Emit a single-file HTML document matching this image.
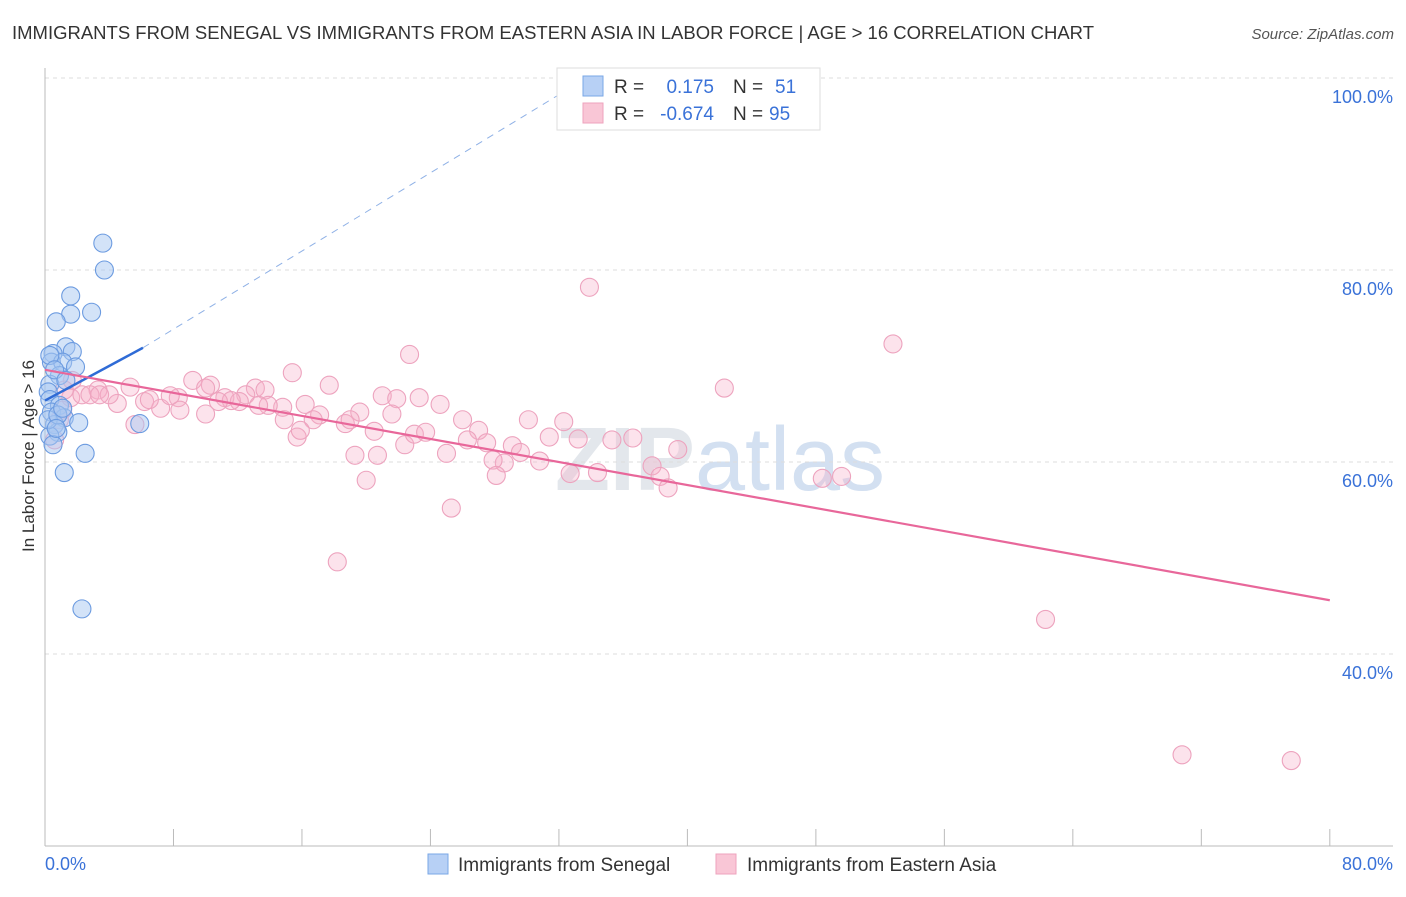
<!DOCTYPE html>
<html><head><meta charset="utf-8"><style>
body{margin:0;background:#fff;font-family:"Liberation Sans",sans-serif}
svg text{font-family:"Liberation Sans",sans-serif}
</style></head><body>
<svg id="chart" width="1406" height="892" viewBox="0 0 1406 892" xmlns="http://www.w3.org/2000/svg">
<text x="12" y="39" font-size="18" fill="#333" textLength="1082" lengthAdjust="spacingAndGlyphs">IMMIGRANTS FROM SENEGAL VS IMMIGRANTS FROM EASTERN ASIA IN LABOR FORCE | AGE &gt; 16 CORRELATION CHART</text>
<text x="1394" y="39" font-size="15" fill="#555" text-anchor="end" font-style="italic">Source: ZipAtlas.com</text>
<text x="720" y="490" font-size="90" fill="#e3e7ec" text-anchor="middle" font-family="Liberation Serif" font-weight="bold">ZIP<tspan fill="#d3e0f1" font-family="Liberation Sans" font-weight="normal">atlas</tspan></text>
<g id="grid"></g>
<g id="axes"></g>
<g id="pts"></g>
<g id="lines"></g>
<text transform="translate(34,456) rotate(-90)" font-size="17" fill="#333" text-anchor="middle">In Labor Force | Age &gt; 16</text>
<g>
<rect x="557" y="68" width="263" height="62" fill="#fff" stroke="#ddd"/>
<rect x="583" y="76" width="20" height="20" fill="#b7d0f5" stroke="#7aa7e6"/>
<rect x="583" y="103" width="20" height="20" fill="#f9c6d6" stroke="#eea3bd"/>
<text x="614" y="93" font-size="19" fill="#333">R =</text>
<text x="714" y="93" font-size="19" fill="#3a72d8" text-anchor="end">0.175</text>
<text x="733" y="93" font-size="19" fill="#333">N =</text>
<text x="775" y="93" font-size="19" fill="#3a72d8">51</text>
<text x="614" y="120" font-size="19" fill="#333">R =</text>
<text x="714" y="120" font-size="19" fill="#3a72d8" text-anchor="end">-0.674</text>
<text x="733" y="120" font-size="19" fill="#333">N =</text>
<text x="769" y="120" font-size="19" fill="#3a72d8">95</text>
</g>
<g>
<rect x="428" y="854" width="20" height="20" fill="#b7d0f5" stroke="#7aa7e6"/>
<text x="458" y="871" font-size="19" fill="#333">Immigrants from Senegal</text>
<rect x="716" y="854" width="20" height="20" fill="#f9c6d6" stroke="#eea3bd"/>
<text x="747" y="871" font-size="19" fill="#333">Immigrants from Eastern Asia</text>
</g>
</svg>
<script>
const yTicks=[100,80,60,40];
const yTickLabels=["100.0%","80.0%","60.0%","40.0%"];
const xTickVals=[8,16,24,32,40,48,56,64,72,80];
const xLabels=["0.0%","80.0%"];
const blueX=[3.6,3.7,1.6,1.6,2.9,0.7,1.3,1.7,0.5,0.4,1.1,1.9,0.9,0.3,0.2,0.3,0.9,0.4,1.2,2.1,0.6,0.8,0.3,0.5,2.5,1.2,2.3,5.9,0.3,0.6,0.2,0.8,1.3,1.1,0.7];
const blueY=[82.8,80.0,77.3,75.4,75.6,74.6,72.0,71.5,71.3,70.4,70.4,69.9,69.0,68.1,67.3,66.5,65.9,65.2,64.6,64.1,63.9,63.1,62.7,61.8,60.9,58.9,44.7,64.0,71.1,69.6,64.4,64.9,68.5,65.6,63.5];
const pinkX=[33.9,22.7,52.8,15.4,9.2,17.7,42.3,10.3,5.3,3.3,13.1,21.0,24.6,21.9,13.7,11.2,8.3,6.2,7.2,10.0,4.5,12.5,14.8,16.2,19.6,17.1,21.6,26.0,30.1,32.3,18.7,16.7,20.5,22.4,15.7,23.0,23.7,27.0,26.3,27.5,31.4,33.2,36.6,29.1,29.6,25.0,28.6,27.9,30.8,19.3,20.7,20.0,28.1,32.7,34.4,37.8,38.3,38.8,39.4,25.3,18.2,48.4,49.6,62.3,70.8,77.6,5.6,1.6,2.3,4.0,12.1,13.9,8.4,1.1,0.6,0.9,2.8,6.5,11.6,10.0,15.9,19.0,23.3,35.3,1.7,1.2,3.4,7.8,10.8,14.9,13.3];
const pinkY=[78.2,71.2,72.3,69.3,68.5,68.0,67.7,68.0,67.8,67.5,67.7,66.9,66.0,66.6,67.5,66.7,66.7,66.3,65.6,65.0,66.1,67.0,65.7,66.0,65.2,64.9,65.0,64.4,64.4,64.2,64.0,64.4,63.2,61.8,62.6,62.9,63.1,63.3,62.3,62.0,62.6,62.4,62.5,61.7,61.0,60.9,59.9,60.2,60.1,60.7,60.7,58.1,58.6,58.8,58.9,59.6,58.5,57.3,61.3,55.2,49.6,58.3,58.5,43.6,29.5,28.9,63.9,66.7,67.0,67.0,66.3,65.9,65.4,65.4,62.3,64.4,67.0,66.5,66.4,67.7,63.3,64.4,66.7,62.3,68.5,67.5,67.0,66.9,66.3,64.4,65.9];
const blueLine=[0,66.4,6.1,71.9,34.2,100.5];
const pinkLine=[0,69.6,80,45.6];
const NS="http://www.w3.org/2000/svg";
const X=v=>45+v*16.06, Y=v=>78+(100-v)*9.6;
function mk(p,t,a){const e=document.createElementNS(NS,t);for(const k in a)e.setAttribute(k,a[k]);document.getElementById(p).appendChild(e);return e;}
yTicks.forEach((v,i)=>{
 const g=mk('grid','line',{x1:45,x2:1393,y1:Y(v),y2:Y(v),stroke:'#ddd','stroke-dasharray':'4,4'});
 
 
 const t=mk('grid','text',{x:1393,y:Y(v)+25,'font-size':18,fill:'#3a72d8','text-anchor':'end'});
 t.textContent=yTickLabels[i];
 
 
});
const ya=mk('axes','line',{x1:45,x2:45,y1:68,y2:846,stroke:'#bbb'});


const xa=mk('axes','line',{x1:45,x2:1393,y1:846,y2:846,stroke:'#bbb'});


xTickVals.forEach(v=>{
 const t=mk('axes','line',{x1:X(v),x2:X(v),y1:829,y2:846,stroke:'#bbb'});
 
 
});
[[0,'start',45],[80,'end',1393]].forEach((d,i)=>{
 const t=mk('axes','text',{x:d[2],y:870,'font-size':18,fill:'#3a72d8','text-anchor':d[1]});
 t.textContent=xLabels[i];
 
 
});
pinkX.forEach((v,i)=>{
 const c=mk('pts','circle',{cx:X(v),cy:Y(pinkY[i]),r:9,fill:'rgba(246,175,200,0.35)',stroke:'#eda3be','stroke-width':1.1});
 
 
});
blueX.forEach((v,i)=>{
 const c=mk('pts','circle',{cx:X(v),cy:Y(blueY[i]),r:9,fill:'rgba(168,200,242,0.5)',stroke:'#6c9be0','stroke-width':1.1});
 
 
});
const bd=mk('lines','line',{x1:X(blueLine[2]),y1:Y(blueLine[3]),x2:X(blueLine[4]),y2:Y(blueLine[5]),stroke:'#8fb1e6','stroke-width':1,'stroke-dasharray':'7,6'});


const bl=mk('lines','line',{x1:X(blueLine[0]),y1:Y(blueLine[1]),x2:X(blueLine[2]),y2:Y(blueLine[3]),stroke:'#2f6bd6','stroke-width':2.5});


const pl=mk('lines','line',{x1:X(pinkLine[0]),y1:Y(pinkLine[1]),x2:X(pinkLine[2]),y2:Y(pinkLine[3]),stroke:'#e8679a','stroke-width':2.2});


</script>
</body></html>
